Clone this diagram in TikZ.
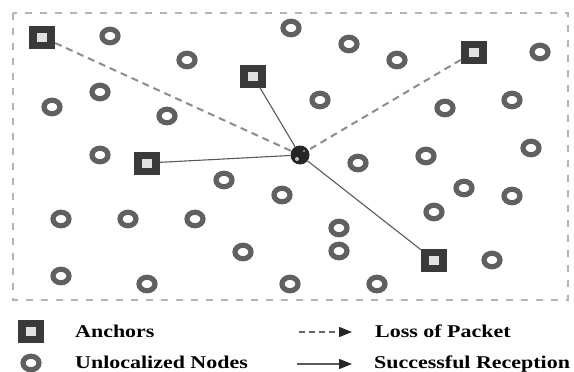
\documentclass[tikz,border=0pt]{standalone}
\usepackage{fontspec}
\setmainfont{Liberation Serif}
\usetikzlibrary{shapes.geometric,arrows.meta}
\definecolor{ancfill}{HTML}{3A3A3A}
\definecolor{ancin}{HTML}{E2E2E2}
\definecolor{ringc}{HTML}{606060}
\definecolor{framec}{HTML}{B4B4B4}
\definecolor{lossc}{HTML}{8C8C8C}
\definecolor{linkc}{HTML}{5A5A5A}
\tikzset{
  anchorbox/.style={rectangle, fill=ancfill, minimum width=26pt, minimum height=23pt, inner sep=0pt,
    path picture={\fill[ancin] ([xshift=-5pt,yshift=-4.5pt]path picture bounding box.center)
      rectangle ([xshift=5pt,yshift=4.5pt]path picture bounding box.center);}},
  ringnode/.style={ellipse, draw=ringc, line width=5.2pt, minimum width=16pt, minimum height=13.5pt, inner sep=0pt},
  hub/.style={circle, fill=black!85, minimum size=19pt, inner sep=0pt},
  lossline/.style={draw=lossc, line width=2pt, dash pattern=on 7pt off 5pt},
  linkline/.style={draw=linkc, line width=1.1pt},
  legtip/.style={-{Triangle[length=13pt,width=10pt,color=black!85,fill=black!85]}},
  legtext/.style={anchor=base west, inner sep=0pt, font=\fontsize{18}{20}\selectfont\bfseries, text=black},
}
\newcommand{\wide}[1]{\scalebox{1.22}[1]{#1}}
\begin{document}
\begin{tikzpicture}[x=1pt,y=-1pt]
\useasboundingbox (0,0) rectangle (574,372);
\fill[white] (0,0) rectangle (574,372);
% field frame
\draw[framec, line width=1.4pt, dash pattern=on 7pt off 8pt] (13,13) rectangle (568,300);

% unlocalized nodes
\foreach \p [count=\i] in {
  (110,36),(187,60),(100,92),(52,107),(167,116),(100,155),(224,180),(282,195),
  (291,28),(349,44),(397,60),(540,52),(320,100),(445,108),(512,100),(358,163),
  (426,156),(531,148),(464,188),(512,196),(61,219),(128,219),(195,219),(243,252),
  (61,276),(147,284),(290,284),(377,284),(339,228),(339,251),(434,212),(492,260)}
  \node[ringnode] (u\i) at \p {};

% node being localized
\node[hub] (ctr) at (300,155) {};
\fill[white!75!black] (297,159) circle (2pt);
\fill[white!65!black] (304,151) circle (1.2pt);

% anchors
\node[anchorbox] (a1) at (42,37) {};
\node[anchorbox] (a2) at (253,76) {};
\node[anchorbox] (a3) at (147,163) {};
\node[anchorbox] (a4) at (474,52) {};
\node[anchorbox] (a5) at (434,260) {};

% links to the hub
\draw[lossline] (a1) -- (ctr);
\draw[lossline] (a4) -- (ctr);
\draw[linkline] (a2) -- (ctr);
\draw[linkline] (a3) -- (ctr);
\draw[linkline] (a5) -- (ctr);

% legend
\node[anchorbox] (la) at (31,331) {};
\node[ringnode] (lu) at (31,363) {};
\node[legtext] (ta) at (75,337) {\wide{Anchors}};
\node[legtext] (tu) at (75,368) {\wide{Unlocalized Nodes}};
\coordinate (ls) at (299,332);
\coordinate (le) at (352,332);
\coordinate (ss) at (297,364);
\coordinate (se) at (352,364);
\draw[black!60, line width=1.1pt, dash pattern=on 6pt off 4pt, legtip] (ls) -- (le);
\draw[linkline, legtip] (ss) -- (se);
\node[legtext] (tl) at (375,337) {\wide{Loss of Packet}};
\node[legtext] (ts) at (374,368) {\wide{Successful Reception}};
\end{tikzpicture}
\end{document}
